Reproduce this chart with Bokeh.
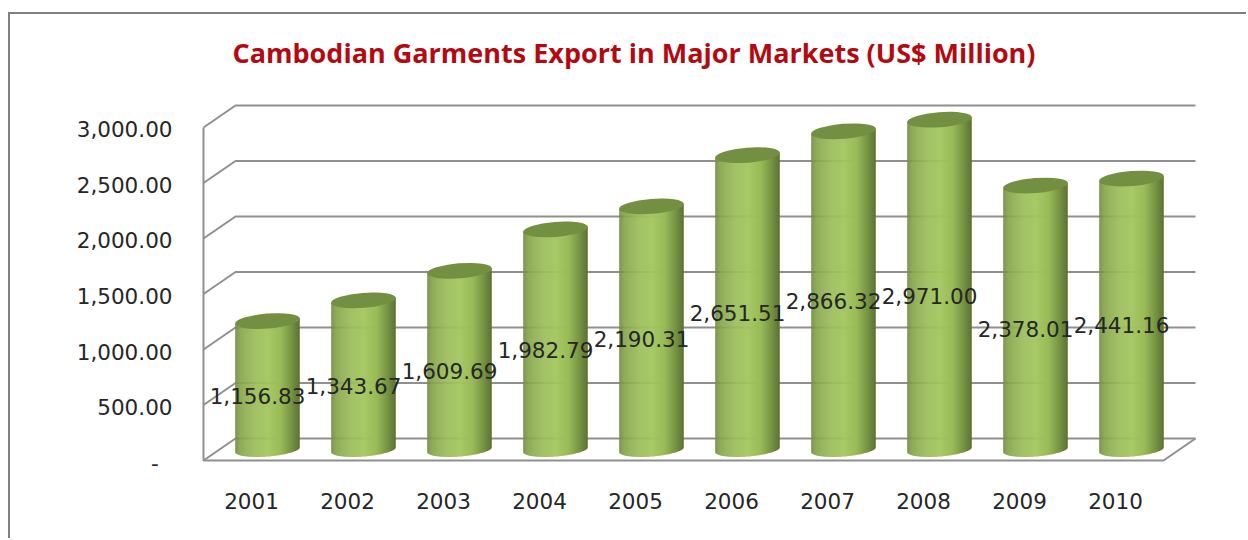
from bokeh.plotting import figure
from bokeh.models import FixedTicker, Label, LinearAxis, Range1d
from bokeh.core.properties import value
from bokeh.embed import file_html
from bokeh.resources import INLINE
import math

# Garment export values, US$ million
years = [2001, 2002, 2003, 2004, 2005, 2006, 2007, 2008, 2009, 2010]
exports = [1156.83, 1343.67, 1609.69, 1982.79, 2190.31, 2651.51, 2866.32, 2971.00, 2378.01, 2441.16]
y_ticks = [0, 500, 1000, 1500, 2000, 2500, 3000]
y_tick_labels = ["-\u00a0\u00a0", "500.00", "1,000.00", "1,500.00", "2,000.00", "2,500.00", "3,000.00"]
chart_title = "Cambodian Garments Export in Major Markets  (US$ Million)"

FONT = "DejaVu Sans"
RED = "#b30a12"
GRID = "#8f8f8f"
TEXT = "#262626"
TOP_CAP = "#738f42"

# Page layout: the figure starts just inside the sheet edge, and the
# plotting frame runs up to that edge so the heading can sit inside it
W, H = 1248, 540
ORIGIN_X, ORIGIN_Y = 10, 14
FRAME_L, FRAME_R, FRAME_T, FRAME_B = 200, 1198, ORIGIN_Y, 466
TITLE_X, TITLE_Y = 232, 52
PX_PER_YEAR = 96.0
PX_PER_UNIT = 0.111
YEAR0_PX = 251.0
ZERO_PX = 460.0

# Oblique projection of the chart floor, in data units
DEPTH_X = 32.0 / PX_PER_YEAR
DEPTH_Y = 22.0 / PX_PER_UNIT

# Cylinder shape, in pixels converted to data units
BAR_W = 64.5 / PX_PER_YEAR
CAP_W, CAP_H, CAP_TILT = 65, 15, math.radians(4.5)
BASE_DROP = 7.0 / PX_PER_UNIT
TILT_RISE = 2.5 / PX_PER_UNIT
LABEL_SHIFT = 6.0 / PX_PER_YEAR


def year_at(px):
    return years[0] + (px - YEAR0_PX) / PX_PER_YEAR


def value_at(px):
    return (ZERO_PX - px) / PX_PER_UNIT


p = figure(width=W - ORIGIN_X, height=H - ORIGIN_Y, output_backend="svg", toolbar_location=None,
           x_range=Range1d(year_at(FRAME_L), year_at(FRAME_R)),
           y_range=Range1d(value_at(FRAME_B), value_at(FRAME_T)),
           min_border_left=FRAME_L - ORIGIN_X, min_border_right=W - FRAME_R,
           min_border_top=0, min_border_bottom=H - FRAME_B,
           outline_line_color=None, background_fill_color="white",
           border_fill_color="white")
p.grid.visible = False

# Sheet edge running along the top and left of the page
p.styles = {"margin-left": "8px", "margin-top": "12px",
            "border-left": "2px solid #808080", "border-top": "2px solid #808080"}

# Value labels sit a little below their gridlines
p.extra_y_ranges = {"labels": Range1d((463.0 - FRAME_B) / 0.1113, (463.0 - FRAME_T) / 0.1113)}
p.yaxis.visible = False
y_axis = LinearAxis(y_range_name="labels", ticker=FixedTicker(ticks=y_ticks),
                    major_label_overrides=dict(zip(y_ticks, y_tick_labels)),
                    axis_line_color=None, major_tick_line_color=None, minor_tick_line_color=None,
                    major_label_text_font=FONT, major_label_text_font_size="21.5px",
                    major_label_text_color=TEXT, major_label_standoff=22)
p.add_layout(y_axis, "left")

xa = p.xaxis[0]
xa.ticker = FixedTicker(ticks=years)
xa.major_label_overrides = {y: str(y) for y in years}
xa.axis_line_color = None
xa.major_tick_line_color = None
xa.minor_tick_line_color = None
xa.major_label_text_font = FONT
xa.major_label_text_font_size = "21.5px"
xa.major_label_text_color = TEXT
xa.major_label_standoff = 20

# Heading at the top of the frame
p.add_layout(Label(x=year_at(TITLE_X), y=value_at(TITLE_Y), text=chart_title,
                   text_color=RED, text_font="Open Sans", text_font_style="bold",
                   text_font_size="27px", text_align="left", text_baseline="middle"))

# Wall gridlines with their side returns, then the floor outline
left_x = years[0] - 0.5
right_x = years[-1] + 0.5
for v in y_ticks:
    p.line([left_x, left_x + DEPTH_X, right_x + DEPTH_X],
           [v, v + DEPTH_Y, v + DEPTH_Y], line_color=GRID, line_width=2)
p.line([left_x, left_x, right_x, right_x + DEPTH_X],
       [y_ticks[-1], 0, 0, DEPTH_Y], line_color=GRID, line_width=2)

# Horizontal shading across a cylinder: dark rims, light middle
SHADE = [(0.00, (112, 140, 60)), (0.08, (134, 164, 74)), (0.30, (154, 188, 88)),
         (0.50, (163, 198, 94)), (0.70, (154, 188, 88)), (0.86, (122, 150, 68)),
         (1.00, (90, 114, 50))]


def shade(t):
    for (t0, c0), (t1, c1) in zip(SHADE, SHADE[1:]):
        if t <= t1:
            f = (t - t0) / (t1 - t0)
            return "#%02x%02x%02x" % tuple(round(a + (b - a) * f) for a, b in zip(c0, c1))
    return "#5a7232"


STRIPS = 64
for year, v in zip(years, exports):
    cx = year + DEPTH_X / 2
    base = DEPTH_Y / 2
    lefts, rights, tops, bottoms, colors = [], [], [], [], []
    for i in range(STRIPS):
        t = (i + 0.5) / STRIPS
        u = 2 * t - 1
        lefts.append(cx + BAR_W * (i / STRIPS - 0.5))
        rights.append(cx + BAR_W * ((i + 1.4) / STRIPS - 0.5) if i < STRIPS - 1 else cx + BAR_W / 2)
        tops.append(base + v + TILT_RISE * u)
        bottoms.append(base - BASE_DROP * math.sqrt(max(1 - u * u, 0)) + TILT_RISE * u)
        colors.append(shade(t))
    p.quad(left=lefts, right=rights, top=tops, bottom=bottoms, fill_color=colors, line_color=None)
    p.ellipse(x=[cx], y=[base + v], width=CAP_W, height=CAP_H, angle=CAP_TILT,
              width_units="screen", height_units="screen",
              fill_color=TOP_CAP, line_color=None)

# Each amount is printed at half its own height on the front plane
p.text(x=[y + LABEL_SHIFT for y in years], y=[v / 2 for v in exports],
       text=[f"{v:,.2f}" for v in exports], text_font=value(FONT), text_font_size="21.5px",
       text_color=TEXT, text_align="center", text_baseline="middle")

open("out.html", "w").write(file_html(p, INLINE))
